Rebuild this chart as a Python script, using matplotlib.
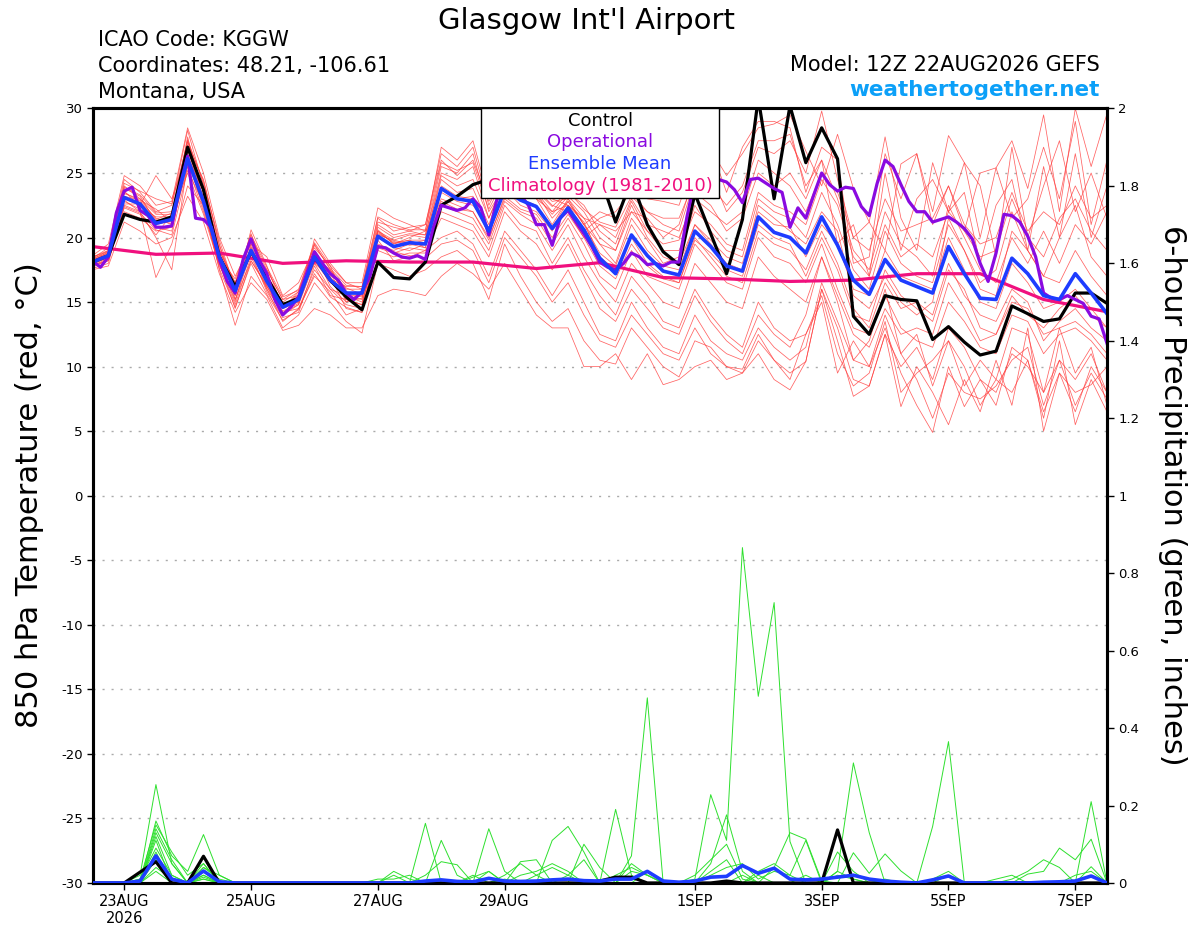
import numpy as np
import pandas as pd
import matplotlib
matplotlib.use("Agg")
import matplotlib.pyplot as plt
import matplotlib.dates as mdates
from matplotlib.patches import Rectangle
from matplotlib.ticker import FuncFormatter

# ---- CONFIG ----
plt.rcParams['font.family'] = ['DejaVu Sans']
plt.rcParams['axes.unicode_minus'] = False
station = "Glasgow Int'l Airport"
info_lines = ['ICAO Code: KGGW', 'Coordinates: 48.21, -106.61', 'Montana, USA']
model_line = 'Model: 12Z 22AUG2026 GEFS'
site_line = 'weathertogether.net'

times = pd.date_range('2026-08-22 12:00', periods=65, freq='6h')
times_op = pd.date_range('2026-08-22 12:00', periods=129, freq='3h')
times_clim = pd.date_range('2026-08-22 12:00', periods=17, freq='24h')

tick_dates = ['2026-08-23', '2026-08-25', '2026-08-27', '2026-08-29',
              '2026-09-01', '2026-09-03', '2026-09-05', '2026-09-07']
tick_labels = ['23AUG\n2026', '25AUG', '27AUG', '29AUG', '1SEP', '3SEP', '5SEP', '7SEP']

# ---- 850 hPa temperature (C) ----
control_t = [18.1, 18.6, 21.8, 21.4, 21.2, 21.6, 27.0, 23.7, 18.5, 16.2, 18.9, 16.9, 14.8, 15.3, 18.5, 16.7,
             15.4, 14.4, 18.1, 16.9, 16.8, 18.1, 22.5, 23.2, 24.1, 24.5, 25.0, 24.8, 25.5, 24.0, 25.2, 24.5,
             24.8, 21.2, 24.5, 21.0, 18.9, 17.9, 23.4, 20.3, 17.2, 21.4, 30.8, 23.0, 30.2, 25.8, 28.5, 26.1,
             13.9, 12.5, 15.5, 15.2, 15.1, 12.1, 13.1, 11.9, 10.9, 11.2, 14.7, 14.1, 13.5, 13.7, 15.7, 15.7, 14.9]

mean_t = [18.1, 18.6, 23.1, 22.6, 21.1, 21.4, 26.1, 22.8, 18.5, 15.9, 19.0, 16.6, 14.6, 15.2, 18.5, 16.7,
          15.7, 15.7, 20.1, 19.3, 19.6, 19.5, 23.8, 23.0, 22.8, 20.5, 23.7, 22.9, 22.4, 20.7, 22.3, 20.6,
          18.4, 17.2, 20.2, 18.6, 17.4, 17.1, 20.5, 19.3, 17.8, 17.4, 21.6, 20.4, 20.0, 18.8, 21.6, 19.4,
          16.7, 15.6, 18.3, 16.7, 16.2, 15.7, 19.3, 17.2, 15.3, 15.2, 18.4, 17.2, 15.5, 15.2, 17.2, 15.7, 14.1]

oper_t = [18.2, 17.7, 18.5, 21.9, 23.6, 23.9, 22.1, 21.7, 20.8, 20.8, 20.9, 23.9, 26.3, 21.5, 21.4, 20.8,
          18.3, 16.6, 15.7, 18.3, 19.9, 18.3, 17.2, 15.2, 14.0, 14.6, 15.4, 17.2, 18.9, 18.0, 17.2, 16.7,
          15.7, 15.2, 15.8, 17.0, 19.3, 19.2, 18.8, 18.5, 18.4, 18.6, 18.3, 20.8, 22.5, 22.3, 22.1, 22.3,
          23.0, 22.3, 20.2, 22.9, 24.0, 24.0, 23.3, 22.5, 21.0, 21.0, 19.4, 21.5, 22.1, 21.2, 20.3, 19.3,
          18.1, 17.7, 17.5, 18.0, 18.8, 18.5, 17.9, 18.0, 17.8, 18.1, 18.1, 21.6, 24.5, 25.5, 25.2, 24.5,
          24.3, 23.7, 22.7, 24.5, 24.6, 24.2, 23.8, 23.5, 20.8, 22.3, 21.5, 23.3, 25.0, 24.1, 23.6, 23.9,
          23.8, 22.4, 21.7, 24.2, 26.0, 25.5, 24.1, 22.8, 22.0, 22.0, 21.2, 21.4, 21.6, 21.2, 20.7, 19.9,
          18.0, 16.6, 18.8, 21.8, 21.7, 21.2, 20.1, 18.5, 15.7, 15.3, 15.2, 15.5, 15.2, 14.9, 13.9, 13.7, 11.8]

clim_t = [19.3, 18.7, 18.8, 18.0, 18.2, 18.1, 18.1, 17.6, 18.05, 16.9, 16.8, 16.6, 16.7, 17.2, 17.2, 15.2, 14.25]

m01 = [18.0, 18.4, 23.5, 22.8, 21.5, 21.0, 27.5, 23.5, 18.2, 15.0, 19.5, 16.2, 14.0, 14.8, 18.9, 16.2, 15.0, 15.3, 20.5, 19.8, 20.2, 20.0,
       24.5, 23.5, 23.8, 21.0, 24.5, 23.0, 23.5, 21.5, 22.8, 21.0, 19.5, 18.0, 21.5, 19.8, 18.0, 18.5, 22.5, 20.5, 19.0, 18.5, 23.0, 22.0, 21.5,
       20.0, 23.5, 21.0, 17.5, 16.0, 20.5, 18.0, 17.0, 16.5, 21.0, 19.0, 16.0, 15.5, 20.5, 19.0, 17.0, 16.5, 19.0, 17.0, 15.5]
m02 = [18.5, 19.0, 24.5, 23.5, 22.0, 22.5, 28.3, 24.0, 19.0, 16.5, 20.3, 17.0, 15.0, 15.8, 19.5, 17.5, 16.0, 16.0, 21.5, 20.5, 20.8, 21.0,
       26.5, 25.5, 27.0, 22.5, 25.0, 24.5, 24.0, 22.8, 23.0, 21.0, 22.0, 21.5, 24.0, 23.0, 22.8, 22.5, 26.0, 26.8, 24.8, 26.5, 28.5, 28.8, 29.5,
       26.7, 24.0, 28.0, 23.8, 21.2, 19.0, 25.7, 26.5, 22.0, 27.9, 25.8, 20.0, 25.4, 27.5, 23.8, 29.5, 22.0, 30.0, 25.5, 29.6]
m03 = [17.8, 18.2, 22.0, 21.5, 20.5, 20.8, 25.5, 22.0, 18.0, 14.8, 18.5, 16.0, 14.2, 14.5, 17.5, 16.0, 15.5, 15.0, 19.0, 18.5, 18.8, 18.8,
       22.0, 21.5, 21.0, 19.0, 22.5, 21.0, 20.5, 18.0, 20.0, 17.5, 15.5, 14.0, 17.0, 15.5, 13.5, 13.0, 16.0, 14.0, 12.5, 11.5, 15.0, 13.0, 12.0,
       12.5, 15.0, 9.5, 12.0, 10.0, 13.0, 9.5, 7.0, 4.9, 10.0, 6.9, 9.0, 7.0, 11.5, 10.5, 6.0, 12.0, 5.5, 9.0, 6.5]
m04 = [18.2, 18.8, 23.0, 22.5, 24.8, 23.0, 26.5, 23.0, 18.8, 16.0, 19.0, 17.5, 15.2, 15.5, 18.0, 17.0, 14.5, 14.2, 19.5, 19.0, 19.5, 19.2,
       23.5, 22.8, 22.5, 20.8, 24.0, 23.5, 23.0, 21.0, 23.0, 21.5, 19.5, 19.0, 22.5, 20.0, 18.5, 18.0, 21.0, 19.5, 18.0, 17.5, 22.5, 21.5, 20.5,
       19.5, 22.0, 20.5, 15.5, 14.5, 17.0, 15.0, 14.0, 15.0, 21.5, 19.0, 16.5, 17.5, 22.0, 19.0, 17.0, 20.0, 22.5, 18.5, 17.0]
m05 = [17.6, 18.0, 22.5, 22.0, 16.9, 19.5, 24.0, 22.5, 17.5, 13.2, 17.0, 15.5, 13.0, 14.0, 16.5, 15.0, 13.5, 12.6, 18.0, 17.5, 17.0, 17.5,
       18.5, 19.0, 18.0, 15.2, 19.5, 17.0, 15.0, 13.5, 14.5, 12.0, 10.5, 10.2, 13.0, 11.5, 10.0, 9.2, 12.0, 11.5, 10.0, 9.5, 12.0, 10.5, 9.5,
       10.4, 16.0, 13.0, 9.0, 8.5, 12.5, 10.0, 11.5, 9.0, 13.0, 11.5, 9.0, 8.0, 11.0, 10.0, 8.0, 10.5, 9.0, 11.0, 8.0]
m06 = [18.4, 19.2, 24.0, 23.0, 21.8, 21.8, 27.0, 24.5, 19.5, 15.5, 20.6, 17.8, 14.5, 15.0, 19.9, 18.0, 16.5, 16.5, 22.3, 21.5, 21.0, 20.5,
       27.0, 26.0, 27.5, 23.0, 25.0, 25.0, 24.0, 23.0, 22.5, 20.5, 21.5, 22.0, 23.5, 22.0, 21.0, 20.5, 24.5, 25.0, 22.0, 23.5, 27.0, 26.5, 27.5,
       25.0, 29.8, 24.5, 20.0, 21.2, 27.8, 21.5, 19.0, 25.8, 22.0, 25.8, 24.0, 18.5, 27.0, 20.0, 24.0, 27.5, 22.0, 25.0, 21.5]
m07 = [17.9, 18.5, 22.8, 22.2, 21.0, 21.3, 26.0, 23.2, 18.5, 16.2, 18.8, 16.5, 14.8, 15.2, 18.2, 16.5, 15.8, 15.5, 20.0, 19.2, 19.0, 19.5,
       24.0, 23.2, 23.0, 20.2, 23.8, 22.5, 22.0, 20.5, 22.5, 21.2, 18.5, 17.5, 20.0, 18.0, 17.0, 16.5, 20.0, 18.5, 17.0, 16.5, 20.5, 19.5, 19.0,
       17.5, 20.5, 18.0, 14.5, 13.0, 16.5, 14.5, 15.0, 14.0, 18.0, 15.5, 14.0, 13.5, 16.0, 15.0, 12.0, 13.5, 14.5, 13.0, 12.0]
m08 = [18.1, 18.6, 23.8, 23.2, 21.2, 21.5, 27.8, 22.8, 18.6, 15.8, 19.8, 16.8, 14.0, 15.5, 19.0, 17.2, 15.2, 14.8, 20.8, 20.0, 20.3, 20.2,
       25.0, 24.5, 25.5, 21.5, 24.2, 24.0, 23.5, 22.0, 23.5, 22.5, 20.5, 19.5, 22.8, 20.5, 19.5, 19.8, 23.5, 22.5, 20.5, 21.5, 25.0, 24.0, 25.0,
       23.0, 26.0, 23.0, 19.0, 17.5, 22.0, 19.5, 18.5, 17.0, 22.5, 20.0, 17.5, 16.5, 20.0, 18.0, 20.5, 18.0, 21.0, 19.5, 22.0]
m09 = [17.5, 17.8, 21.2, 20.5, 19.5, 20.0, 23.2, 21.2, 17.2, 14.2, 16.5, 15.2, 12.8, 13.2, 14.5, 14.0, 13.0, 13.0, 15.5, 16.0, 15.8, 15.5,
       17.0, 18.0, 17.2, 16.0, 18.0, 16.0, 14.0, 13.0, 13.0, 10.0, 10.0, 11.0, 9.0, 11.0, 8.6, 9.0, 10.0, 10.5, 9.0, 9.5, 11.0, 9.0, 8.2,
       10.4, 16.0, 12.0, 7.7, 8.5, 12.5, 6.9, 10.0, 8.0, 5.5, 9.0, 6.5, 10.5, 7.0, 13.0, 5.0, 9.5, 8.0, 8.6, 10.0]
m10 = [18.6, 19.5, 24.8, 24.0, 22.5, 22.8, 28.5, 25.0, 20.0, 17.0, 19.5, 18.5, 15.5, 16.5, 19.2, 17.8, 15.0, 15.8, 21.0, 20.2, 20.5, 21.0,
       26.0, 24.8, 26.0, 22.8, 24.8, 24.8, 23.8, 22.5, 22.0, 20.0, 21.0, 20.5, 22.0, 21.5, 20.0, 21.0, 25.0, 27.0, 23.5, 27.0, 29.0, 29.0, 28.5,
       23.5, 27.0, 26.0, 18.0, 18.5, 26.5, 23.0, 26.5, 21.0, 24.0, 20.5, 25.0, 25.4, 21.5, 23.0, 27.0, 23.0, 29.0, 21.0, 26.0]
m11 = [18.3, 18.7, 23.2, 22.9, 22.2, 21.2, 26.8, 23.8, 19.2, 15.2, 18.2, 16.2, 14.5, 15.8, 18.8, 16.8, 16.2, 16.2, 20.5, 19.5, 19.8, 19.8,
       23.0, 22.5, 22.0, 20.0, 23.0, 22.0, 21.5, 19.5, 21.5, 19.5, 17.0, 16.0, 19.0, 17.0, 16.5, 16.0, 19.5, 18.0, 16.5, 16.0, 20.0, 18.5, 18.0,
       16.5, 19.5, 16.0, 13.0, 12.5, 15.5, 13.0, 12.0, 11.5, 15.0, 13.5, 11.5, 11.0, 14.0, 13.5, 11.0, 12.5, 13.0, 12.0, 10.5]
m12 = [17.7, 18.3, 22.3, 21.8, 20.2, 21.8, 25.0, 21.8, 17.8, 15.5, 19.2, 16.0, 13.5, 14.5, 17.0, 15.8, 14.0, 14.5, 19.2, 18.8, 19.2, 19.0,
       21.5, 21.0, 20.5, 18.5, 22.0, 20.5, 19.5, 17.5, 19.5, 17.0, 14.5, 13.5, 16.0, 14.5, 13.0, 12.5, 15.5, 13.5, 12.0, 11.0, 14.0, 12.5, 11.5,
       14.0, 18.5, 15.0, 10.5, 12.0, 16.0, 11.0, 12.5, 8.5, 12.0, 8.5, 10.5, 9.0, 13.0, 12.5, 8.0, 13.0, 9.5, 11.5, 7.0]
m13 = [18.2, 18.9, 23.6, 22.4, 21.6, 21.6, 27.2, 23.5, 18.4, 16.8, 19.8, 17.2, 14.8, 15.0, 18.5, 17.5, 15.5, 15.2, 20.2, 19.8, 19.5, 19.8,
       24.8, 24.0, 24.5, 21.5, 24.5, 23.8, 23.2, 21.8, 23.2, 22.0, 20.0, 19.0, 22.0, 20.5, 19.0, 19.0, 22.0, 21.0, 19.5, 19.0, 23.5, 22.5, 22.0,
       21.0, 24.5, 22.5, 18.5, 17.0, 21.0, 18.5, 19.5, 18.5, 22.0, 20.5, 18.5, 19.0, 23.0, 20.0, 18.5, 21.5, 23.0, 20.5, 19.0]
m14 = [18.0, 18.5, 22.6, 22.6, 20.8, 20.5, 26.2, 22.2, 18.0, 14.5, 18.2, 16.3, 14.2, 14.8, 18.0, 16.0, 14.8, 14.5, 20.6, 19.5, 20.0, 20.5,
       22.5, 22.0, 21.5, 19.5, 22.8, 21.8, 21.0, 19.0, 21.0, 18.5, 16.5, 15.0, 18.0, 16.5, 15.0, 14.5, 18.0, 16.5, 15.0, 14.5, 18.5, 17.0, 16.0,
       15.0, 18.5, 15.5, 12.5, 11.5, 14.5, 12.5, 13.0, 12.5, 16.5, 14.5, 12.0, 12.5, 15.5, 14.0, 13.0, 14.5, 15.5, 14.0, 13.0]
m15 = [18.4, 18.8, 23.9, 23.3, 21.9, 22.0, 27.6, 24.2, 19.8, 16.0, 20.0, 17.5, 15.2, 16.0, 19.6, 17.8, 16.5, 16.0, 21.2, 20.8, 20.5, 20.2,
       25.5, 25.0, 26.5, 22.0, 24.0, 23.5, 23.0, 22.0, 22.5, 21.5, 21.0, 20.0, 23.0, 21.0, 20.5, 20.0, 23.0, 22.0, 21.0, 22.0, 26.0, 25.0, 24.0,
       22.0, 25.0, 23.5, 20.0, 19.0, 23.0, 20.5, 21.0, 21.5, 24.0, 21.0, 19.5, 20.0, 23.5, 20.5, 22.0, 21.0, 24.0, 21.5, 22.5]
m16 = [17.8, 18.4, 22.9, 22.0, 20.0, 17.5, 25.8, 22.5, 18.0, 15.2, 18.8, 15.8, 13.8, 14.2, 17.8, 15.5, 15.2, 14.8, 19.8, 18.2, 18.5, 19.0,
       20.0, 20.5, 19.5, 17.0, 20.5, 19.0, 17.5, 15.5, 17.5, 15.0, 12.5, 12.0, 15.0, 13.0, 11.5, 11.0, 14.0, 12.0, 11.0, 10.5, 13.0, 11.5, 10.5,
       11.5, 16.5, 13.5, 10.5, 10.0, 14.0, 11.0, 9.0, 6.0, 9.5, 8.0, 7.5, 8.5, 10.5, 11.5, 7.0, 10.5, 7.0, 9.5, 7.5]
m17 = [18.5, 18.9, 23.4, 23.0, 21.4, 21.9, 26.9, 23.0, 19.0, 16.5, 19.9, 16.9, 14.6, 15.6, 18.6, 17.4, 16.1, 15.6, 20.4, 19.6, 19.8, 19.2,
       23.8, 23.0, 23.2, 20.5, 23.5, 23.0, 22.5, 20.8, 22.8, 21.0, 18.8, 17.8, 21.0, 19.0, 17.8, 17.5, 21.0, 19.8, 18.5, 18.0, 22.0, 21.0, 20.8,
       18.5, 21.0, 19.5, 16.0, 15.5, 19.0, 17.0, 16.5, 16.0, 20.0, 17.5, 15.0, 14.5, 18.0, 16.5, 14.5, 15.0, 16.0, 14.5, 13.0]
m18 = [18.1, 18.6, 23.0, 22.7, 21.3, 21.1, 26.3, 23.6, 18.8, 15.6, 19.3, 16.5, 14.3, 14.9, 18.4, 16.6, 15.6, 15.4, 20.3, 19.7, 19.4, 19.6,
       22.8, 22.2, 22.0, 19.8, 23.2, 22.2, 21.8, 20.0, 21.8, 20.0, 17.8, 16.8, 19.5, 17.8, 16.8, 16.5, 19.8, 18.8, 17.5, 17.0, 21.0, 20.0, 19.5,
       17.0, 20.0, 17.5, 14.0, 13.5, 17.5, 15.5, 14.5, 13.5, 17.5, 16.0, 13.0, 12.5, 15.0, 14.5, 12.5, 13.0, 13.5, 12.5, 11.0]
m19 = [17.9, 18.2, 22.4, 21.9, 20.6, 20.2, 25.2, 22.6, 17.6, 14.6, 18.0, 15.6, 13.6, 14.4, 17.2, 15.4, 14.6, 14.2, 19.4, 18.9, 18.6, 18.4,
       19.5, 19.8, 19.0, 16.5, 20.0, 18.5, 17.0, 15.0, 16.5, 14.0, 12.0, 11.5, 14.0, 12.5, 11.0, 10.5, 13.0, 11.0, 10.0, 9.8, 12.5, 10.5, 9.0,
       12.5, 15.5, 11.0, 8.5, 9.5, 13.5, 8.0, 9.5, 10.5, 12.0, 10.0, 7.0, 9.0, 8.0, 10.5, 6.5, 9.5, 6.5, 10.0, 8.0]
m20 = [18.3, 19.0, 24.2, 23.6, 23.0, 22.6, 27.4, 24.4, 19.4, 16.2, 20.2, 17.7, 15.4, 15.9, 19.4, 17.6, 16.3, 16.2, 21.6, 21.0, 20.6, 20.6,
       25.8, 25.2, 25.8, 22.2, 24.6, 24.2, 23.6, 22.4, 23.6, 22.2, 21.2, 20.8, 23.2, 22.0, 21.5, 21.5, 24.5, 24.0, 22.5, 24.0, 27.5, 27.5, 28.0,
       24.0, 26.0, 19.5, 21.0, 17.0, 25.0, 19.0, 23.0, 24.5, 22.0, 23.5, 18.0, 22.5, 24.5, 19.0, 25.5, 20.0, 26.5, 20.0, 24.0]
members_t = [m01, m02, m03, m04, m05, m06, m07, m08, m09, m10,
             m11, m12, m13, m14, m15, m16, m17, m18, m19, m20]

# ---- 6-hour precipitation (inches) ----
control_p = [0, 0, 0, 0.028, 0.055, 0, 0, 0.069, 0, 0, 0, 0, 0, 0, 0, 0, 0, 0, 0, 0,
             0, 0, 0, 0, 0, 0, 0, 0, 0, 0, 0, 0, 0.005, 0.015, 0.015, 0, 0, 0, 0, 0,
             0.005, 0, 0, 0, 0, 0, 0, 0.137, 0, 0, 0, 0, 0, 0, 0, 0, 0, 0, 0, 0,
             0, 0, 0, 0, 0]
mean_p = [0, 0, 0, 0.005, 0.07, 0.01, 0, 0.031, 0.003, 0, 0, 0, 0, 0, 0, 0, 0, 0, 0, 0,
          0, 0.005, 0.008, 0.004, 0.003, 0.012, 0.005, 0.004, 0.005, 0.008, 0.01, 0.006, 0.005, 0.01, 0.01, 0.03, 0.005, 0.002, 0.005, 0.015,
          0.017, 0.045, 0.025, 0.038, 0.01, 0.008, 0.01, 0.015, 0.02, 0.01, 0.005, 0.002, 0, 0.008, 0.018, 0, 0, 0, 0, 0,
          0.002, 0.003, 0.005, 0.018, 0]
g01 = [0, 0, 0, 0.02, 0.254, 0.05, 0, 0, 0, 0, 0, 0, 0, 0, 0, 0, 0, 0, 0, 0,
       0, 0, 0, 0, 0, 0, 0, 0, 0, 0, 0, 0, 0, 0, 0, 0, 0, 0, 0.01, 0.228,
       0.11, 0.866, 0.482, 0.724, 0.107, 0, 0, 0, 0, 0, 0, 0, 0, 0, 0, 0, 0, 0, 0, 0,
       0, 0, 0, 0, 0]
g02 = [0, 0, 0, 0, 0.16, 0.07, 0.03, 0.125, 0.02, 0, 0, 0, 0, 0, 0, 0, 0, 0, 0, 0,
       0, 0, 0, 0, 0, 0.14, 0.03, 0, 0, 0, 0, 0, 0, 0, 0.07, 0.478, 0, 0, 0, 0,
       0, 0, 0, 0, 0, 0, 0, 0, 0, 0, 0, 0, 0, 0.146, 0.365, 0, 0, 0, 0, 0,
       0, 0, 0, 0, 0]
g03 = [0, 0, 0, 0.01, 0.15, 0.08, 0.02, 0.05, 0, 0, 0, 0, 0, 0, 0, 0, 0, 0, 0, 0,
       0, 0.154, 0, 0, 0, 0, 0, 0, 0, 0.11, 0.146, 0.08, 0, 0.19, 0.02, 0, 0, 0, 0, 0,
       0, 0, 0, 0, 0, 0, 0, 0.03, 0.31, 0.13, 0, 0, 0, 0, 0, 0, 0, 0, 0, 0,
       0, 0, 0, 0.21, 0]
g04 = [0, 0, 0, 0, 0.14, 0.06, 0, 0.04, 0.01, 0, 0, 0, 0, 0, 0, 0, 0, 0, 0, 0,
       0, 0.02, 0.055, 0.047, 0, 0, 0, 0.055, 0.06, 0, 0, 0, 0, 0, 0, 0, 0, 0, 0, 0.05,
       0.176, 0.03, 0, 0.04, 0.13, 0.113, 0.005, 0, 0.078, 0.025, 0.075, 0.031, 0, 0, 0, 0, 0, 0, 0, 0.023,
       0.03, 0.09, 0.06, 0.113, 0]
g05 = [0, 0, 0, 0, 0.13, 0.05, 0, 0.03, 0, 0, 0, 0, 0, 0, 0, 0, 0, 0, 0, 0.03,
       0.01, 0, 0, 0, 0, 0.03, 0, 0.02, 0.03, 0.05, 0.03, 0, 0, 0.02, 0.04, 0.02, 0, 0, 0, 0.03,
       0.06, 0, 0.02, 0, 0, 0.02, 0, 0.08, 0.03, 0, 0, 0, 0, 0, 0.02, 0, 0, 0, 0.01, 0.03,
       0.06, 0.04, 0, 0.042, 0]
g06 = [0, 0, 0, 0, 0.12, 0.02, 0, 0.02, 0, 0, 0, 0, 0, 0, 0, 0, 0, 0, 0, 0,
       0, 0, 0.11, 0.02, 0, 0, 0, 0, 0.02, 0.04, 0.02, 0.06, 0, 0, 0, 0.03, 0, 0, 0, 0,
       0, 0, 0, 0, 0, 0, 0, 0, 0, 0, 0, 0, 0, 0, 0, 0, 0, 0, 0, 0,
       0, 0, 0, 0, 0]
g07 = [0, 0, 0, 0, 0.11, 0, 0, 0.05, 0, 0, 0, 0, 0, 0, 0, 0, 0, 0, 0, 0,
       0, 0, 0, 0, 0.02, 0, 0.01, 0, 0, 0, 0, 0.1, 0.04, 0, 0.05, 0.02, 0, 0, 0, 0.02,
       0.04, 0.05, 0.01, 0.03, 0.02, 0.11, 0, 0.03, 0.01, 0, 0, 0, 0, 0.01, 0.03, 0, 0, 0, 0, 0,
       0, 0, 0, 0, 0]
g08 = [0, 0, 0, 0.01, 0.09, 0.02, 0, 0.01, 0, 0, 0, 0, 0, 0, 0, 0, 0, 0, 0.01, 0.01,
       0.02, 0, 0, 0, 0, 0, 0.02, 0.05, 0.02, 0, 0, 0, 0, 0, 0, 0, 0, 0, 0.02, 0.06,
       0.1, 0.01, 0, 0, 0, 0, 0, 0.02, 0.01, 0, 0, 0, 0, 0, 0, 0, 0, 0, 0, 0,
       0, 0, 0.02, 0.03, 0]
g09 = [0, 0, 0, 0, 0.08, 0, 0, 0.02, 0, 0, 0, 0, 0, 0, 0, 0, 0, 0, 0, 0,
       0, 0, 0, 0, 0.015, 0.03, 0, 0, 0, 0, 0, 0, 0, 0, 0.03, 0.02, 0, 0, 0, 0,
       0, 0, 0.03, 0.05, 0.02, 0, 0, 0, 0, 0, 0, 0, 0, 0, 0, 0, 0, 0.01, 0.02, 0,
       0, 0, 0, 0, 0]
g10 = [0, 0, 0, 0, 0.06, 0, 0, 0.01, 0, 0, 0, 0, 0, 0, 0, 0, 0, 0, 0, 0.02,
       0, 0, 0, 0, 0, 0, 0, 0, 0, 0, 0.02, 0, 0, 0, 0, 0, 0, 0, 0, 0,
       0, 0.02, 0, 0, 0, 0, 0, 0, 0, 0, 0.01, 0, 0, 0, 0, 0, 0, 0, 0, 0,
       0, 0, 0, 0, 0]
g11 = [0, 0, 0, 0, 0.04, 0.01, 0, 0.04, 0.02, 0, 0, 0, 0, 0, 0, 0, 0, 0, 0, 0,
       0, 0, 0, 0, 0, 0, 0, 0, 0, 0, 0, 0, 0, 0, 0, 0, 0, 0, 0, 0,
       0, 0, 0, 0, 0, 0, 0, 0, 0, 0, 0, 0, 0, 0, 0, 0, 0, 0, 0, 0,
       0, 0, 0, 0, 0]
g12 = [0, 0, 0, 0, 0.03, 0, 0, 0.015, 0, 0, 0, 0, 0, 0, 0, 0, 0, 0, 0, 0,
       0, 0, 0, 0, 0, 0, 0, 0, 0, 0, 0, 0, 0, 0, 0, 0, 0, 0, 0, 0,
       0, 0, 0, 0, 0, 0, 0, 0, 0, 0, 0, 0, 0, 0, 0, 0, 0, 0, 0, 0,
       0, 0, 0, 0, 0]
members_p = [g01, g02, g03, g04, g05, g06, g07, g08, g09, g10, g11, g12]

# ---- colours ----
c_red = '#ff3c3c'
c_green = '#2ee02e'
c_control = 'black'
c_oper = '#8a0ae0'
c_mean = '#1e3cff'
c_clim = '#f0107e'

# ---- PLOT ----
fig = plt.figure(figsize=(12, 9.27), dpi=100)
ax = fig.add_axes([0.0771, 0.0475, 0.8454, 0.8355])
ax2 = ax.twinx()

for m in members_t:
    ax.plot(times, m, color=c_red, lw=0.55, alpha=0.8, zorder=2)
ax.plot(times_clim, clim_t, color=c_clim, lw=2.3, zorder=4)
ax.plot(times, control_t, color=c_control, lw=2.3, zorder=5)
ax.plot(times_op, oper_t, color=c_oper, lw=2.3, zorder=6)
ax.plot(times, mean_t, color=c_mean, lw=2.6, zorder=7)

for g in members_p:
    ax2.plot(times, g, color=c_green, lw=0.7, zorder=2)
ax2.plot(times, control_p, color=c_control, lw=2.3, zorder=5)
ax2.plot(times, mean_p, color=c_mean, lw=2.6, zorder=6)

ax.set_xlim(times[0], times[-1])
ax.set_ylim(-30, 30)
ax.set_yticks(np.arange(-30, 31, 5))
ax2.set_ylim(0, 2)
ax2.set_yticks(np.arange(0, 2.01, 0.2))
ax2.yaxis.set_major_formatter(FuncFormatter(lambda v, p: f'{v:g}'))

ax.set_xticks(mdates.date2num(pd.to_datetime(tick_dates)))
ax.set_xticklabels(tick_labels)

ax.set_axisbelow(True)
ax.yaxis.grid(True, color='#aaaaaa', linestyle=(0, (1.5, 5)), linewidth=1.0)

ax.tick_params(axis='y', direction='out', length=4, width=1, labelsize=9.5, pad=3)
ax.tick_params(axis='x', direction='out', length=5, width=1, labelsize=10.5, pad=3)
ax2.tick_params(axis='y', direction='out', length=5, width=1, labelsize=9.5, pad=3)

for a in (ax, ax2):
    for s in a.spines.values():
        s.set_linewidth(2.2)

# legend box
ax2.add_patch(Rectangle((0.3827, 0.8845), 0.2351, 0.1155, transform=ax2.transAxes,
                        facecolor='white', edgecolor='black', lw=1.0, zorder=20, clip_on=False))
legend_items = [('Control', c_control), ('Operational', c_oper),
                ('Ensemble Mean', c_mean), ('Climatology (1981-2010)', c_clim)]
for k, (txt, col) in enumerate(legend_items):
    ax2.text(0.5003, 0.9843 - k * 0.0281, txt, color=col, fontsize=13,
             ha='center', va='center', transform=ax2.transAxes, zorder=21)

# header text
fig.text(587 / 1200, 1 - 29 / 927, station, fontsize=21, ha='center', va='baseline')
for k, line in enumerate(info_lines):
    fig.text(98 / 1200, 1 - (46 + 26 * k) / 927, line, fontsize=15, ha='left', va='baseline')
fig.text(1100 / 1200, 1 - 71 / 927, model_line, fontsize=15, ha='right', va='baseline')
fig.text(1100 / 1200, 1 - 96.5 / 927, site_line, fontsize=15.5, fontweight='bold',
         color='#0ca0f8', ha='right', va='baseline')

fig.text(30 / 1200, 1 - 495 / 927, '850 hPa Temperature (red, \u00b0C)', fontsize=22,
         rotation=90, ha='center', va='center')
fig.text(1172 / 1200, 1 - 495 / 927, '6-hour Precipitation (green, inches)', fontsize=22,
         rotation=270, ha='center', va='center')

plt.savefig('out.png', dpi=100)
plt.close()
